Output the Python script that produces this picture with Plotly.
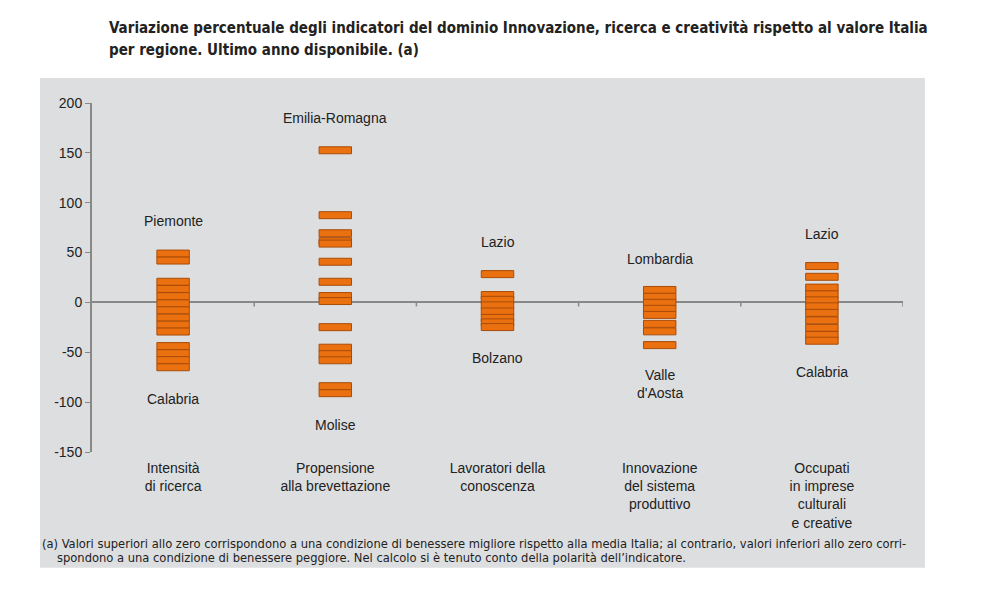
import plotly.graph_objects as go

categories = ["Intensità<br>di ricerca", "Propensione<br>alla brevettazione", "Lavoratori della<br>conoscenza",
              "Innovazione<br>del sistema<br>produttivo", "Occupati<br>in imprese<br>culturali<br>e creative"]

ricerca = [49, 42, 20.7, 13.5, 6.3, -0.9, -7.9, -15.2, -22.3, -29.2, -43.8, -50.9, -57.9, -65.0]
brevetti = [152.6, 87.5, 69.4, 61.4, 59, 40.8, 20.7, 6.4, 1.4, -24.8, -45.4, -51.9, -58, -84, -91]
lavoratori = [28.4, 7.4, 2.6, -2.9, -9.1, -15.5, -20, -24.7]
innovazione = [12.5, 5.6, -0.4, -6.4, -12.5, -21.5, -29, -42.8]
cultura = [36.5, 25.7, 14.9, 8.1, 2.1, -3.9, -10.5, -18, -25.5, -32.6, -38.4]
series = [ricerca, brevetti, lavoratori, innovazione, cultura]

y_ticks = [-150, -100, -50, 0, 50, 100, 150, 200]
y_tick_text = ["-150", "-100", "-50", "0", "50", "100", "150", "200"]

top_labels = ["Piemonte", "Emilia-Romagna", "Lazio", "Lombardia", "Lazio"]
top_label_y = [82, 184.5, 61, 44, 69]
bottom_labels = ["Calabria", "Molise", "Bolzano", "Valle<br>d'Aosta", "Calabria"]
bottom_label_y = [-97, -123, -55.5, -82, -70]

title_lines = ["Variazione percentuale degli indicatori del dominio Innovazione, ricerca e creatività rispetto al valore Italia",
               "per regione. Ultimo anno disponibile. (a)"]
note_lines = ["(a) Valori superiori allo zero corrispondono a una condizione di benessere migliore rispetto alla media Italia; al contrario, valori inferiori allo zero corri-",
              "spondono a una condizione di benessere peggiore. Nel calcolo si è tenuto conto della polarità dell’indicatore."]

dash_height = 7

xs, bases = [], []
for i, vals in enumerate(series):
    for v in vals:
        xs.append(i)
        bases.append(v - dash_height / 2)

fig = go.Figure()
fig.add_trace(go.Bar(
    x=xs, y=[dash_height] * len(xs), base=bases, width=0.2,
    marker=dict(color="#ea7010", line=dict(color="#a94c08", width=1)),
    showlegend=False, hoverinfo="skip"))

font_main = "Liberation Sans, Arial, sans-serif"
font_narrow = "DejaVu Sans Condensed, Liberation Sans Narrow, sans-serif"

annotations = []
for i in range(5):
    annotations.append(dict(x=i, y=top_label_y[i], text=top_labels[i], showarrow=False,
                            font=dict(size=14, color="#222", family=font_main)))
    annotations.append(dict(x=i, y=bottom_label_y[i], text=bottom_labels[i], showarrow=False,
                            font=dict(size=14, color="#222", family=font_main)))

for line, yy in zip(title_lines, [1.215, 1.152]):
    annotations.append(dict(xref="paper", yref="paper", x=0.0185, y=yy, xanchor="left", yanchor="middle",
                            align="left", showarrow=False, text="<b>" + line + "</b>",
                            font=dict(size=15, color="#222", family=font_narrow)))
for line, xx, yy in zip(note_lines, [-0.0641, -0.0456], [-0.261, -0.301]):
    annotations.append(dict(xref="paper", yref="paper", x=xx, y=yy, xanchor="left", yanchor="middle",
                            align="left", showarrow=False, text=line,
                            font=dict(size=12.8, color="#222", family=font_narrow)))

shapes = [dict(type="rect", xref="paper", yref="paper", x0=-0.0641, x1=1.027, y0=-0.332, y1=1.0716,
               fillcolor="#dddee0", line=dict(width=0), layer="below")]
for b in [0.5, 1.5, 2.5, 3.5, 4.5]:
    shapes.append(dict(type="line", xref="x", yref="y", x0=b, x1=b, y0=0, y1=-4,
                       line=dict(color="#888", width=1.5), layer="below"))

fig.update_layout(
    width=989, height=607,
    margin=dict(l=84, r=94, t=95, b=163),
    paper_bgcolor="white", plot_bgcolor="rgba(0,0,0,0)",
    barmode="overlay",
    xaxis=dict(range=[-0.5, 4.5], tickvals=list(range(5)), ticktext=categories, showgrid=False,
               zeroline=False, showline=False, ticks="", ticklabelstandoff=6,
               tickfont=dict(size=14, color="#222", family=font_main)),
    yaxis=dict(range=[-150, 200], tickvals=y_ticks, ticktext=y_tick_text, showgrid=False,
               zeroline=True, zerolinecolor="#888", zerolinewidth=2,
               showline=True, linecolor="#888", linewidth=2, ticks="outside", ticklen=5, tickcolor="#888",
               tickfont=dict(size=14, color="#222", family=font_main)),
    annotations=annotations, shapes=shapes,
)

fig.write_html("out.html")
